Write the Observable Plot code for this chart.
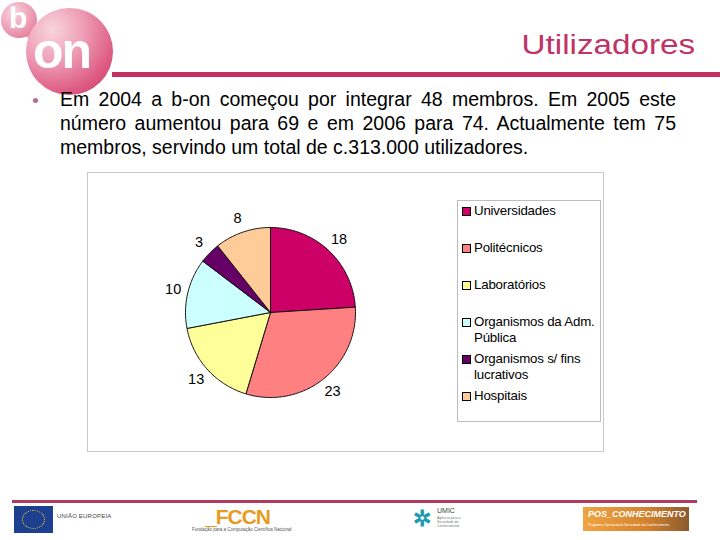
<!DOCTYPE html>
<html>
<head>
<meta charset="utf-8">
<script src="https://cdn.jsdelivr.net/npm/d3@7"></script>
<script src="https://cdn.jsdelivr.net/npm/@observablehq/plot@0.6"></script>
<style>
  html, body { margin: 0; padding: 0; background: #fff; }
  #slide { position: relative; width: 720px; height: 540px; overflow: hidden; font-family: "Liberation Sans", Arial, sans-serif; background: #fff; }
  .abs { position: absolute; }
  #title { right: 25px; top: 32px; font-size: 27px; line-height: 27px; color: #c03366; transform: scaleX(1.23); transform-origin: right center; white-space: nowrap; }
  #rule { left: 112px; top: 72px; width: 608px; height: 5px; background: #c3305f; }
  #bullet { left: 33px; top: 98px; width: 5px; height: 5px; border-radius: 50%; background: #b86a8c; }
  #para { left: 60px; top: 87px; width: 616px; font-size: 19.5px; line-height: 24px; text-align: justify; color: #000; }
  #chartbox { left: 87px; top: 172px; width: 515px; height: 278px; border: 1px solid #c8c8c8; background: #fff; }
  #chartbox svg { display: block; }
  #legend { left: 457px; top: 200px; width: 142px; height: 220px; border: 1px solid #bdbdbd; background: #fff; }
  .item { position: absolute; left: 0; width: 142px; font-size: 13.3px; line-height: 15.7px; color: #000; }
  .sw { position: absolute; left: 4px; top: 3.5px; width: 7px; height: 7px; border: 1px solid #000; }
  .lab { position: absolute; left: 16px; top: 0; white-space: pre; letter-spacing: -0.2px; }
  /* logo */
  #logoSmall { left: 1px; top: 2px; width: 36px; height: 36px; border-radius: 50%;
    background: radial-gradient(circle at 35% 30%, #f7d3de 0%, #eea0b8 50%, #dc6a8d 100%); }
  #logoNeck { left: 22px; top: 26px; width: 22px; height: 14px; background: #eaa0b7; transform: rotate(40deg); border-radius: 6px; }
  #logoBig { left: 26px; top: 8px; width: 87px; height: 87px; border-radius: 50%;
    background: radial-gradient(circle at 30% 25%, #f8d5df 0%, #ef9fb8 35%, #de5d84 70%, #cb3563 100%); }
  #logoB { left: 9px; top: 2px; font-size: 30px; line-height: 32px; font-weight: bold; color: #fff; }
  #logoOn { left: 33px; top: 26px; font-size: 50px; line-height: 50px; font-weight: bold; color: #fff; letter-spacing: -2px; }
  /* footer */
  #frule { left: 12px; top: 500px; width: 685px; height: 3px; background: #b33a5f; }
  #eu { left: 14px; top: 506px; width: 39px; height: 27px; background: #1d3f8f; }
  #euRing { left: 22px; top: 510px; width: 21px; height: 17px; border-radius: 50%; border: 1.5px dotted #f3d02a; }
  #euTxt { left: 57px; top: 513px; font-size: 6px; line-height: 7px; color: #444; letter-spacing: 0.2px; }
  #fccn { left: 205px; top: 507px; font-size: 21px; line-height: 19px; font-weight: bold; color: #e89a22; letter-spacing: -1px; }
  #fccnTxt { left: 192px; top: 527px; font-size: 4.5px; line-height: 5px; color: #555; white-space: nowrap; }
  #umicMark { left: 413px; top: 507px; font-size: 22px; line-height: 24px; color: #1d9bb0; font-weight: bold; }
  #umicTxt { left: 437px; top: 507px; font-size: 7px; line-height: 8px; color: #444; }
  #umicSub { left: 437px; top: 516px; font-size: 3.5px; color: #777; line-height: 4px; }
  #pos { left: 583px; top: 507px; width: 106px; height: 24px; background: linear-gradient(90deg, #f0a441, #d5822d 60%, #8a5a2e); }
  #posTxt { left: 588px; top: 509px; font-size: 9px; line-height: 10px; font-weight: bold; font-style: italic; color: #fff; white-space: nowrap; }
  #posSub { left: 588px; top: 523px; font-size: 3.5px; line-height: 4px; color: #fff; white-space: nowrap; }
</style>
</head>
<body>
<div id="slide">
  <div id="logoNeck" class="abs"></div>
  <div id="logoSmall" class="abs"></div>
  <div id="logoBig" class="abs"></div>
  <div id="logoB" class="abs">b</div>
  <div id="logoOn" class="abs">on</div>
  <div id="title" class="abs">Utilizadores</div>
  <div id="rule" class="abs"></div>
  <div id="bullet" class="abs"></div>
  <div id="para" class="abs">Em 2004 a b-on começou por integrar 48 membros. Em 2005 este número aumentou para 69 e em 2006 para 74. Actualmente tem 75 membros, servindo um total de c.313.000 utilizadores.</div>
  <div id="chartbox" class="abs"></div>
  <div id="legend" class="abs"></div>
  <div id="frule" class="abs"></div>
  <div id="eu" class="abs"></div>
  <div id="euRing" class="abs"></div>
  <div id="euTxt" class="abs">UNIÃO EUROPEIA</div>
  <div id="fccn" class="abs">_FCCN</div>
  <div id="fccnTxt" class="abs">Fundação para a Computação Científica Nacional</div>
  <div id="umicMark" class="abs">✲</div>
  <div id="umicTxt" class="abs">UMIC</div>
  <div id="umicSub" class="abs">Agência para a<br>Sociedade do<br>Conhecimento</div>
  <div id="pos" class="abs"></div>
  <div id="posTxt" class="abs">POS_CONHECIMENTO</div>
  <div id="posSub" class="abs">Programa Operacional Sociedade do Conhecimento</div>
</div>
<script>
// ---- data ----
const categories = ["Universidades", "Politécnicos", "Laboratórios", "Organismos da Adm. Pública", "Organismos s/ fins lucrativos", "Hospitais"];
const legendLabels = ["Universidades", "Politécnicos", "Laboratórios", "Organismos da Adm.\nPública", "Organismos s/ fins\nlucrativos", "Hospitais"];
const values = [18, 23, 13, 10, 3, 8];
const colors = ["#CC0066", "#FF8080", "#FFFF99", "#CCFFFF", "#660066", "#FFCC99"];

// ---- pie geometry from data ----
const W = 515, H = 278, CX = 182, CY = 139, R = 85, LR = 100;
const arcs = d3.pie().sort(null)(values);
const slicePts = [];
arcs.forEach((a, i) => {
  const n = Math.max(2, Math.ceil((a.endAngle - a.startAngle) / (Math.PI / 180)));
  slicePts.push({cat: categories[i], color: colors[i], x: 0, y: 0});
  for (let k = 0; k <= n; k++) {
    const t = a.startAngle + (a.endAngle - a.startAngle) * k / n;
    slicePts.push({cat: categories[i], color: colors[i], x: R * Math.sin(t), y: R * Math.cos(t)});
  }
  slicePts.push({cat: categories[i], color: colors[i], x: 0, y: 0});
});
const labels = arcs.map((a, i) => {
  const m = (a.startAngle + a.endAngle) / 2;
  return {text: String(values[i]), x: LR * Math.sin(m), y: LR * Math.cos(m)};
});

const chart = Plot.plot({
  width: W, height: H,
  margin: 0,
  x: {domain: [-CX, W - CX], axis: null},
  y: {domain: [-(H - CY), CY], axis: null},
  color: {type: "identity"},
  style: {fontFamily: "'Liberation Sans', Arial, sans-serif", background: "#fff", overflow: "visible"},
  marks: [
    Plot.line(slicePts, {x: "x", y: "y", z: "cat", fill: "color", stroke: "#111", strokeWidth: 1, strokeLinejoin: "round", curve: "linear"}),
    Plot.text(labels, {x: "x", y: "y", text: "text", fontSize: 14.5, fill: "#000"})
  ]
});
document.getElementById("chartbox").appendChild(chart);

// ---- legend ----
const leg = document.getElementById("legend");
legendLabels.forEach((lab, i) => {
  const it = document.createElement("div");
  it.className = "item";
  it.style.top = (2 + 37 * i) + "px";
  const sw = document.createElement("div");
  sw.className = "sw";
  sw.style.background = colors[i];
  const tx = document.createElement("div");
  tx.className = "lab";
  tx.textContent = lab;
  it.appendChild(sw); it.appendChild(tx);
  leg.appendChild(it);
});
</script>
</body>
</html>
